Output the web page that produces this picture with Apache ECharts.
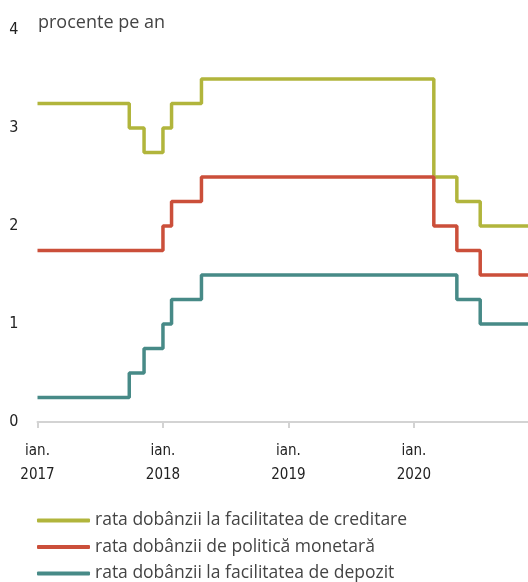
<!DOCTYPE html>
<html>
<head>
<meta charset="utf-8">
<script src="https://cdn.jsdelivr.net/npm/echarts@6/dist/echarts.min.js"></script>
<style>
  html, body { margin: 0; padding: 0; background: #fff; }
  #chart { width: 528px; height: 582px; }
</style>
</head>
<body>
<div id="chart"></div>
<script>
// date-uri la care se schimba nivelul ratei (ultimul punct = capatul graficului)
var lendingDates = ['2017-01-01', '2017-09-25', '2017-11-07', '2018-01-01', '2018-01-26', '2018-04-23', '2020-02-28', '2020-05-05', '2020-07-12', '2020-11-28'];
var lendingValues = [3.25, 3.00, 2.75, 3.00, 3.25, 3.50, 2.50, 2.25, 2.00, 2.00];

var policyDates = ['2017-01-01', '2018-01-01', '2018-01-26', '2018-04-23', '2020-02-28', '2020-05-05', '2020-07-12', '2020-11-28'];
var policyValues = [1.75, 2.00, 2.25, 2.50, 2.00, 1.75, 1.50, 1.50];

var depositDates = ['2017-01-01', '2017-09-25', '2017-11-07', '2018-01-01', '2018-01-26', '2018-04-23', '2020-05-05', '2020-07-12', '2020-11-28'];
var depositValues = [0.25, 0.50, 0.75, 1.00, 1.25, 1.50, 1.25, 1.00, 1.00];

var seriesNames = ['rata dobânzii la facilitatea de creditare', 'rata dobânzii de politică monetară', 'rata dobânzii la facilitatea de depozit'];
var seriesColors = ['#b1b53c', '#cb4f3a', '#478a87'];
var yTicks = [0, 1, 2, 3, 4];

function zip(dates, values) {
  return dates.map(function (d, i) { return [d, values[i]]; });
}

var narrow = '"Liberation Sans Narrow", "DejaVu Sans Condensed", sans-serif';
var chart = echarts.init(document.getElementById('chart'));

function stepSeries(idx, data) {
  return {
    name: seriesNames[idx],
    type: 'line',
    step: 'end',
    showSymbol: false,
    data: data,
    lineStyle: { width: 3.5, color: seriesColors[idx] },
    itemStyle: { color: seriesColors[idx] }
  };
}

var option = {
  animation: false,
  title: {
    text: 'procente pe an',
    left: 33,
    top: 9,
    textStyle: { fontFamily: 'Open Sans', fontSize: 18, fontWeight: 'normal', color: '#444' }
  },
  legend: {
    orient: 'vertical',
    left: 37,
    top: 510.5,
    height: 80,
    padding: 0,
    itemWidth: 53,
    itemHeight: 4,
    itemGap: 6.5,
    icon: 'roundRect',
    textStyle: { fontFamily: 'Open Sans', fontSize: 17.5, color: '#444', lineHeight: 20 },
    data: seriesNames
  },
  grid: { left: 37.5, right: 0, top: 30, bottom: 160 },
  xAxis: {
    type: 'time',
    min: '2017-01-01',
    max: '2020-11-28',
    splitNumber: 3,
    axisLine: { lineStyle: { color: '#d3d3d3', width: 2 } },
    axisTick: { show: true, length: 6, lineStyle: { color: '#d3d3d3', width: 2 } },
    splitLine: { show: false },
    axisLabel: {
      margin: 17,
      color: '#222',
      fontFamily: narrow,
      fontSize: 15,
      lineHeight: 24,
      formatter: function (v) {
        var d = new Date(v);
        return 'ian.\n' + d.getFullYear();
      }
    }
  },
  yAxis: {
    type: 'value',
    min: yTicks[0],
    max: yTicks[yTicks.length - 1],
    interval: 1,
    axisLine: { show: false },
    axisTick: { show: false },
    splitLine: { show: false },
    axisLabel: { margin: 19, color: '#222', fontFamily: narrow, fontSize: 16 }
  },
  series: [
    stepSeries(0, zip(lendingDates, lendingValues)),
    stepSeries(1, zip(policyDates, policyValues)),
    stepSeries(2, zip(depositDates, depositValues))
  ]
};

if (option && typeof option === 'object') {
  chart.setOption(option, true);
}
</script>
</body>
</html>
